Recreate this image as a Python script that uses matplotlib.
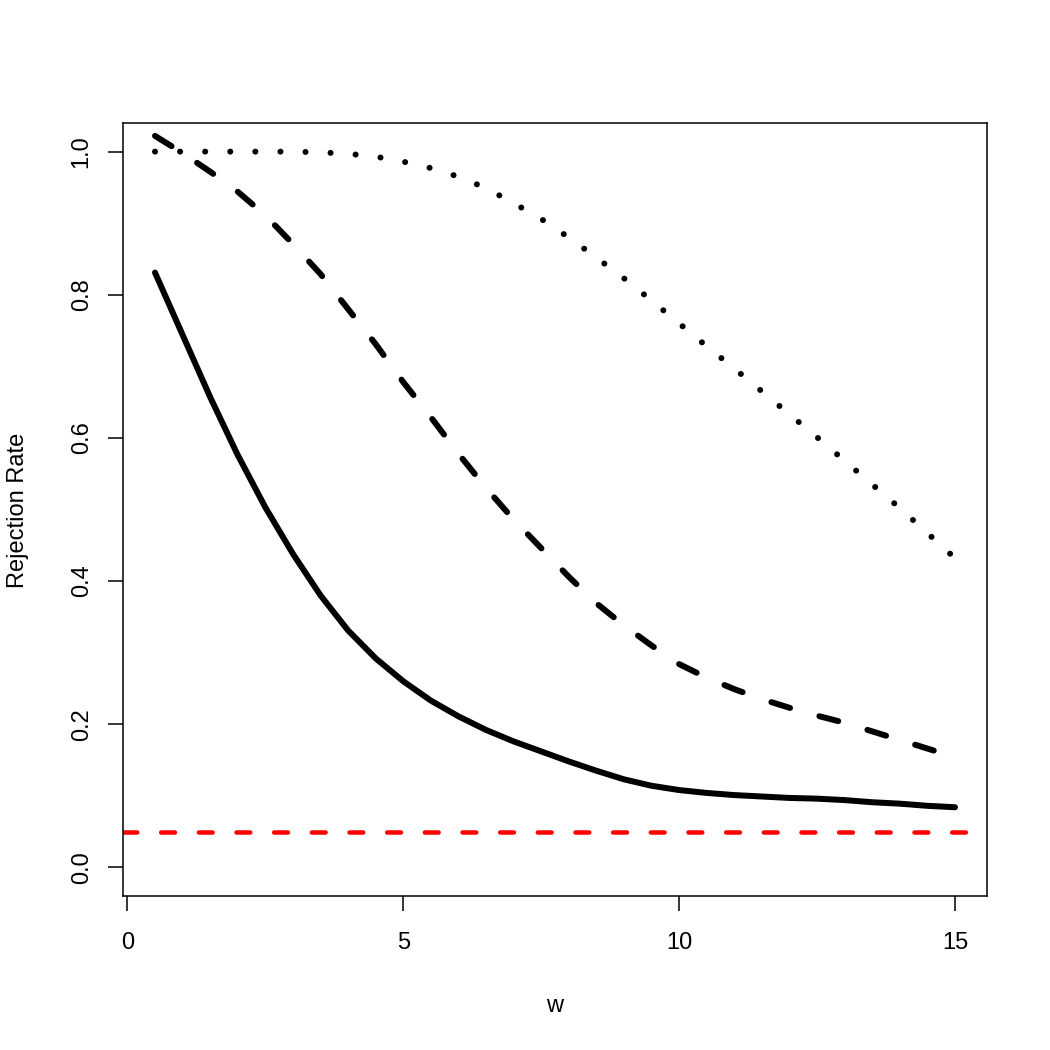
import matplotlib
matplotlib.use("Agg")
import matplotlib.pyplot as plt

# ---- data ----
w = [0.5, 1.0, 1.5, 2.0, 2.5, 3.0, 3.5, 4.0, 4.5, 5.0,
     5.5, 6.0, 6.5, 7.0, 7.5, 8.0, 8.5, 9.0, 9.5, 10.0,
     10.5, 11.0, 11.5, 12.0, 12.5, 13.0, 13.5, 14.0, 14.5, 15.0]

rate_solid = [0.831, 0.744, 0.657, 0.576, 0.503, 0.438, 0.380, 0.331, 0.292, 0.260,
              0.233, 0.211, 0.192, 0.176, 0.162, 0.148, 0.135, 0.123, 0.114, 0.108,
              0.104, 0.101, 0.099, 0.097, 0.096, 0.094, 0.091, 0.089, 0.086, 0.084]

rate_dashed = [1.022, 0.998, 0.972, 0.944, 0.911, 0.871, 0.829, 0.780, 0.731, 0.678,
               0.629, 0.578, 0.530, 0.486, 0.446, 0.406, 0.369, 0.338, 0.310, 0.284,
               0.265, 0.249, 0.235, 0.223, 0.212, 0.202, 0.190, 0.178, 0.166, 0.154]

rate_dotted = [1.000, 1.000, 1.000, 1.000, 1.000, 1.000, 0.999, 0.997, 0.993, 0.986,
               0.977, 0.965, 0.949, 0.928, 0.906, 0.880, 0.852, 0.823, 0.792, 0.760,
               0.728, 0.697, 0.665, 0.633, 0.601, 0.568, 0.535, 0.502, 0.467, 0.432]

nominal_level = 0.05

xticks = [0, 5, 10, 15]
xtick_labels = ["0", "5", "10", "15"]
yticks = [0.0, 0.2, 0.4, 0.6, 0.8, 1.0]
ytick_labels = ["0.0", "0.2", "0.4", "0.6", "0.8", "1.0"]

# ---- style ----
plt.rcParams["font.family"] = ["Liberation Sans", "DejaVu Sans"]
FS = 17
LW = 4.32  # ~6 px

fig = plt.figure(figsize=(10.5, 10.5), dpi=100)
ax = fig.add_axes([123 / 1050, 1 - 896 / 1050, 864 / 1050, 773 / 1050])
ax.set_xlim(-0.08, 15.58)
ax.set_ylim(-0.04, 1.04)

ax.plot(w, rate_solid, color="black", lw=LW, solid_capstyle="round",
        solid_joinstyle="round")
ax.plot(w, rate_dashed, color="black", lw=LW, linestyle=(0, (3.25, 5.08)),
        dash_capstyle="round", dash_joinstyle="round")
ax.plot(w, rate_dotted, color="black", lw=LW, linestyle=(0, (0.01, 4.17)),
        dash_capstyle="round", dash_joinstyle="round")
ax.axhline(nominal_level, color="#ff0000", lw=3.24, linestyle=(0, (3.07, 5.3)),
           dash_capstyle="round")

for s in ax.spines.values():
    s.set_linewidth(1.1)
    s.set_color("black")

ax.set_xticks(xticks)
ax.set_xticklabels(xtick_labels)
ax.set_yticks(yticks)
ax.set_yticklabels(ytick_labels, rotation=90, va="center")
ax.tick_params(axis="both", direction="out", length=10.8, width=1.1,
               labelsize=FS, colors="black")
ax.tick_params(axis="x", pad=15)
ax.tick_params(axis="y", pad=11)

fig.text(555 / 1050, 1 - 1012 / 1050, "w", ha="center", va="baseline", fontsize=FS)
fig.text(18 / 1050, 1 - 510 / 1050, "Rejection Rate", ha="center", va="center",
         rotation=90, fontsize=FS)

fig.savefig("out.png", dpi=100, facecolor="white")
